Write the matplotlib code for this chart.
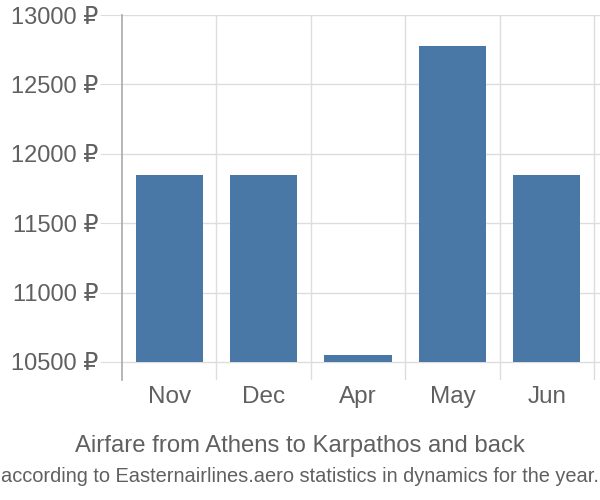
import matplotlib.pyplot as plt
import numpy as np

plt.rcParams['font.family'] = ['Liberation Sans', 'DejaVu Sans']

months = ["Nov", "Dec", "Apr", "May", "Jun"]
prices = [11845, 11845, 10548, 12775, 11845]
yticks = [10500, 11000, 11500, 12000, 12500, 13000]

bar_color = "#4a78a6"
text_color = "#606060"

fig = plt.figure(figsize=(6, 5), dpi=100)
ax = fig.add_axes([122/600, 120/500, 478/600, 365/500])

x = np.arange(len(months))
ax.bar(x, [p - 10500 for p in prices], bottom=10500, width=0.71, color=bar_color, zorder=3)

ax.set_ylim(10370, 13000)
cw = 472 / 5  # category width in px
ax.set_xlim(-0.5, 4.5 + 6 / cw)

# grid lines
for b in np.arange(-0.5, 5, 1.0)[1:]:
    ax.axvline(b, color="#dddddd", lw=1, zorder=1)
for t in yticks:
    ax.axhline(t, color="#dddddd", lw=1, zorder=1)

for s in ["top", "right", "bottom"]:
    ax.spines[s].set_visible(False)
ax.spines["left"].set_color("#aaaaaa")
ax.spines["left"].set_linewidth(1.2)

ax.set_yticks(yticks)
ax.set_yticklabels([f"{t} ₽" for t in yticks])
ax.tick_params(axis="y", length=16, color="#dddddd", pad=1, labelsize=17, labelcolor=text_color)
ax.set_xticks(x)
ax.set_xticklabels(months)
ax.tick_params(axis="x", length=0, pad=4, labelsize=17.5, labelcolor=text_color)

fig.text(0.5, 1 - 446/500, "Airfare from Athens to Karpathos and back", ha="center", va="center",
         fontsize=17.2, color=text_color)
fig.text(0.5, 1 - 476/500, "according to Easternairlines.aero statistics in dynamics for the year.",
         ha="center", va="center", fontsize=14.4, color=text_color)

fig.savefig("out.png")
